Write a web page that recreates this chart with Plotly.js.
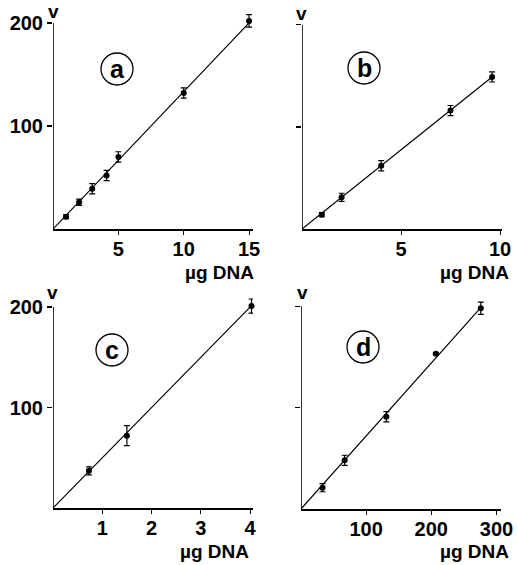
<!DOCTYPE html>
<html>
<head>
<meta charset="utf-8">
<script src="https://cdn.plot.ly/plotly-3.0.1.min.js"></script>
<style>html,body{margin:0;padding:0;background:#fff;}#chart{width:517px;height:565px;}</style>
</head>
<body>
<div id="chart"></div>
<script>
// Panel a
const aX = [1, 2, 3, 4.1, 5, 10, 15];
const aY = [12, 26, 39, 52, 70, 132, 202];
const aErr = [2, 3, 5, 5, 5, 5, 6];
const aFitX = [0, 15];
const aFitY = [0, 200];
const aTicks = [5, 10, 15];
// Panel b
const bX = [1, 2, 4, 7.5, 9.6];
const bY = [14, 31, 62, 116, 149];
const bErr = [2, 4, 5, 5, 5];
const bFitX = [0, 9.6];
const bFitY = [0, 149];
const bTicks = [5, 10];
// Panel c
const cX = [0.73, 1.5, 4.03];
const cY = [37, 72, 201];
const cErr = [4, 10, 7];
const cFitX = [0, 4];
const cFitY = [0, 200];
const cTicks = [1, 2, 3, 4];
// Panel d
const dX = [33, 67, 131, 207, 276];
const dY = [21, 48, 91, 153, 198];
const dErr = [4, 5, 5, 1, 6];
const dFitX = [0, 278];
const dFitY = [0, 200];
const dTicks = [100, 200, 300];
// Shared
const yTicks = [100, 200];
const yMax = 200;
const panelLetters = ['a', 'b', 'c', 'd'];
const xLabel = 'µg DNA';
const yLabel = 'v';

const W = 517, H = 565;
const FONT = 'Liberation Sans, Arial, sans-serif';

function pts(x, y, err, xa, ya) {
  return {x: x, y: y, xaxis: xa, yaxis: ya, type: 'scatter', mode: 'markers',
    marker: {color: '#000', size: 6}, cliponaxis: false, showlegend: false,
    error_y: {type: 'data', array: err, visible: true, color: '#000', thickness: 1.2, width: 3}};
}
function fit(x, y, xa, ya) {
  return {x: x, y: y, xaxis: xa, yaxis: ya, type: 'scatter', mode: 'lines',
    line: {color: '#000', width: 1.2}, showlegend: false};
}
const traces = [
  fit(aFitX, aFitY, 'x', 'y'), pts(aX, aY, aErr, 'x', 'y'),
  fit(bFitX, bFitY, 'x2', 'y2'), pts(bX, bY, bErr, 'x2', 'y2'),
  fit(cFitX, cFitY, 'x3', 'y3'), pts(cX, cY, cErr, 'x3', 'y3'),
  fit(dFitX, dFitY, 'x4', 'y4'), pts(dX, dY, dErr, 'x4', 'y4')
];

const TF = {family: FONT, size: 20, color: '#000', weight: 700};
const bold = t => '<b>' + t + '</b>';
function xaxisDef(px0, px1, range, ticks, anchor) {
  return {domain: [px0 / W, px1 / W], range: range, anchor: anchor,
    showgrid: false, zeroline: false, showline: true, linecolor: '#000', linewidth: 1.5,
    ticks: 'outside', ticklen: 4, tickcolor: '#000', tickwidth: 1,
    tickvals: ticks, ticktext: ticks.map(bold), ticklabelstandoff: -3,
    tickfont: TF, fixedrange: true};
}
function yaxisDef(pyTop, py0, range, labels, anchor) {
  return {domain: [1 - py0 / H, 1 - pyTop / H], range: range, anchor: anchor,
    showgrid: false, zeroline: false, showline: false,
    ticks: 'outside', ticklen: 5, tickcolor: '#000', tickwidth: 1.2,
    tickvals: yTicks, ticktext: yTicks.map(bold), showticklabels: labels,
    tickfont: TF, fixedrange: true};
}

const circles = [[117, 69], [364, 68], [112, 350], [363, 347]];
const vPos = [[53, 12], [301, 14], [52, 292], [302, 292]];
const xlPos = [[219, 272], [474, 272], [214, 551], [474, 551]];
const axisRefs = [['x', 'y'], ['x2', 'y2'], ['x3', 'y3'], ['x4', 'y4']];

const shapes = circles.map(c => ({type: 'circle', xref: 'paper', yref: 'paper',
  xsizemode: 'pixel', ysizemode: 'pixel', xanchor: c[0] / W, yanchor: 1 - c[1] / H,
  x0: -16, x1: 16, y0: -16, y1: 16, line: {color: '#000', width: 1.3}}));
axisRefs.forEach(r => shapes.push({type: 'line', xref: r[0], yref: r[1],
  x0: 0, x1: 0, y0: 0, y1: yMax, line: {color: '#000', width: 1.6}}));

const annotations = [];
circles.forEach((c, i) => annotations.push({xref: 'paper', yref: 'paper', x: c[0] / W, y: 1 - c[1] / H,
  text: bold(panelLetters[i]), showarrow: false, xanchor: 'center', yanchor: 'middle',
  font: {family: FONT, size: 25, color: '#000'}}));
vPos.forEach(p => annotations.push({xref: 'paper', yref: 'paper', x: p[0] / W, y: 1 - p[1] / H,
  text: bold(yLabel), showarrow: false, xanchor: 'center', yanchor: 'middle',
  font: {family: FONT, size: 19, color: '#000'}}));
xlPos.forEach(p => annotations.push({xref: 'paper', yref: 'paper', x: p[0] / W, y: 1 - p[1] / H,
  text: bold(xLabel), showarrow: false, xanchor: 'center', yanchor: 'middle',
  font: {family: FONT, size: 19, color: '#000'}}));

const layout = {
  width: W, height: H, margin: {l: 0, r: 0, t: 0, b: 0},
  paper_bgcolor: '#fff', plot_bgcolor: 'rgba(0,0,0,0)', showlegend: false,
  xaxis: xaxisDef(53, 253, [0, 15.3], aTicks, 'y'),
  yaxis: yaxisDef(10.6, 229, [0, 212], true, 'x'),
  xaxis2: xaxisDef(302, 502, [0, 10.1], bTicks, 'y2'),
  yaxis2: yaxisDef(12.6, 229, [0, 212], false, 'x2'),
  xaxis3: xaxisDef(53, 253, [0, 4.06], cTicks, 'y3'),
  yaxis3: yaxisDef(295, 508, [0, 212], true, 'x3'),
  xaxis4: xaxisDef(301, 501, [0, 307], dTicks, 'y4'),
  yaxis4: yaxisDef(294, 509, [0, 212], false, 'x4'),
  shapes: shapes, annotations: annotations
};
Plotly.newPlot('chart', traces, layout, {displayModeBar: false, staticPlot: true});
</script>
</body>
</html>
